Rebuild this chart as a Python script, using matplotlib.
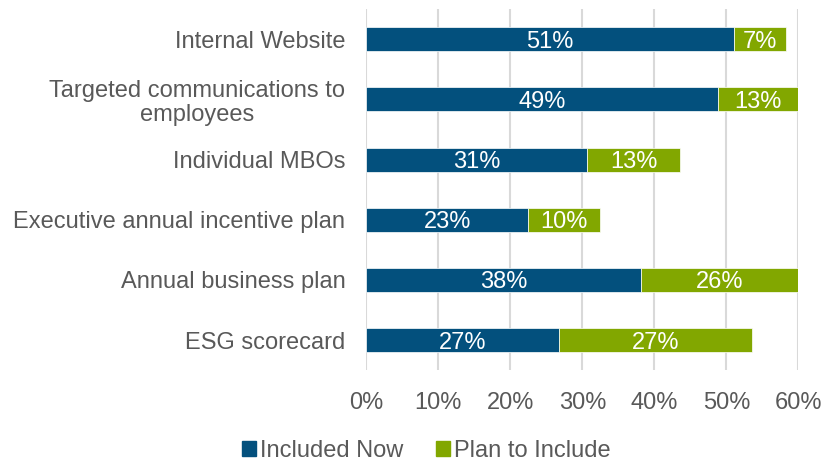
import numpy as np
import matplotlib
matplotlib.use("Agg")
import matplotlib.pyplot as plt
from matplotlib.patches import Patch

plt.rcParams["font.family"] = ["Liberation Sans", "DejaVu Sans"]

categories = ["Internal Website", "Targeted communications to\nemployees", "Individual MBOs",
              "Executive annual incentive plan", "Annual business plan", "ESG scorecard"]
included_now = [51.1, 48.9, 30.7, 22.5, 38.1, 26.8]
plan_to_include = [7.2, 13.0, 12.9, 10.0, 26.0, 26.8]
now_labels = ["51%", "49%", "31%", "23%", "38%", "27%"]
plan_labels = ["7%", "13%", "13%", "10%", "26%", "27%"]

BLUE = "#03507D"
GREEN = "#82A700"
GREY = "#595959"
XMAX = 60
FS = 17

fig = plt.figure(figsize=(8.23, 4.61), dpi=100)
ax = fig.add_axes([0.445, 0.197, 0.525, 0.783])

y = np.arange(len(categories))
ax.barh(y, included_now, height=0.4, color=BLUE, edgecolor="white", lw=0.5, zorder=3)
ax.barh(y, plan_to_include, left=included_now, height=0.4, color=GREEN,
        edgecolor="white", lw=0.5, zorder=3)

for i in range(len(categories)):
    a, b = included_now[i], plan_to_include[i]
    ax.text(a / 2, i, now_labels[i], ha="center", va="center_baseline", color="white",
            fontsize=FS, zorder=4)
    right = min(a + b, XMAX)   # green bar is clipped at the axis end
    ax.text((a + right) / 2, i, plan_labels[i], ha="center", va="center_baseline",
            color="white", fontsize=FS, zorder=4)

ax.set_xlim(0, XMAX)
ax.set_ylim(len(categories) - 0.5, -0.5)
ax.set_xticks(np.arange(0, XMAX + 1, 10))
ax.set_xticklabels([f"{v}%" for v in range(0, XMAX + 1, 10)])
ax.set_yticks(y)
ax.set_yticklabels(categories, linespacing=1.1)
for lbl in ax.get_yticklabels():
    lbl.set_multialignment("center")
ax.tick_params(axis="both", length=0, labelsize=FS, colors=GREY)
ax.tick_params(axis="x", pad=16)
ax.tick_params(axis="y", pad=15)
ax.xaxis.grid(True, color="#D9D9D9", lw=1.5, zorder=0)
for s in ax.spines.values():
    s.set_visible(False)

handles = [Patch(color=BLUE, label="Included Now"), Patch(color=GREEN, label="Plan to Include")]
fig.legend(handles=handles, loc="center", bbox_to_anchor=(0.518, 0.022), ncol=2, frameon=False,
           fontsize=FS, labelcolor=GREY, handlelength=0.6, handleheight=0.6,
           handletextpad=0.15, columnspacing=1.4)

fig.savefig("out.png", dpi=100)
